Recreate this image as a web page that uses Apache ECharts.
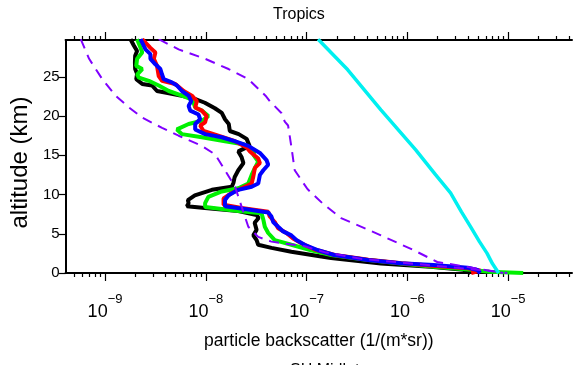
<!DOCTYPE html>
<html>
<head>
<meta charset="utf-8">
<script src="https://cdn.jsdelivr.net/npm/echarts@6/dist/echarts.min.js"></script>
<style>
  html, body { margin: 0; padding: 0; background: #fff; }
  #chart { width: 573px; height: 365px; }
</style>
</head>
<body>
<div id="chart"></div>
<script>
// altitude (km) and particle backscatter (1/(m*sr))
const altBlack = [29.8, 29.0, 28.3, 27.7, 26.8, 26.0, 25.4, 24.7, 24.1, 23.9, 23.2, 23.0, 22.6, 22.2, 21.7, 21.0, 20.4, 19.6, 19.0, 18.1, 17.7, 17.1, 16.2, 15.5, 14.8, 14.0, 13.1, 12.2, 11.5, 11.0, 10.6, 9.9, 9.3, 8.9, 8.5, 8.3, 7.9, 7.4, 7.0, 6.4, 5.5, 4.8, 4.2, 3.6, 3.2, 2.7, 2.1, 1.9, 1.2, 0.8, 0.4, 0];
const black = [1.79e-9, 1.93e-9, 2.08e-9, 1.99e-9, 1.98e-9, 1.99e-9, 2.08e-9, 2.04e-9, 2.34e-9, 2.93e-9, 3.28e-9, 3.94e-9, 5.79e-9, 7.78e-9, 9.78e-9, 1.23e-8, 1.44e-8, 1.55e-8, 1.69e-8, 1.73e-8, 2.12e-8, 2.54e-8, 2.72e-8, 2.10e-8, 2.26e-8, 2.36e-8, 2.10e-8, 1.93e-8, 1.88e-8, 1.81e-8, 1.15e-8, 7.78e-9, 6.64e-9, 6.75e-9, 6.49e-9, 9.78e-9, 2.10e-8, 3.19e-8, 3.34e-8, 3.05e-8, 3.19e-8, 2.96e-8, 3.19e-8, 3.31e-8, 4.48e-8, 7.06e-8, 1.40e-7, 1.75e-7, 5.46e-7, 1.70e-6, 3.60e-6, 4.23e-6];

const altGreen = [29.8, 28.7, 28.1, 27.3, 26.4, 26.0, 25.3, 24.9, 24.5, 23.9, 23.2, 22.6, 22.2, 21.7, 21.1, 20.7, 20.0, 19.4, 19.0, 18.3, 17.7, 17.3, 16.8, 16.4, 15.6, 15.1, 14.2, 13.4, 12.5, 11.4, 10.8, 10.4, 9.7, 8.9, 8.4, 7.9, 7.6, 6.8, 5.9, 5.1, 4.2, 3.6, 2.9, 2.3, 1.7, 1.2, 0.8, 0.4, 0.15, 0];
const green = [2.08e-9, 2.25e-9, 2.34e-9, 2.08e-9, 2.04e-9, 2.34e-9, 2.08e-9, 2.17e-9, 2.72e-9, 3.41e-9, 4.29e-9, 5.79e-9, 7.0e-9, 7.56e-9, 7.84e-9, 9.13e-9, 1.06e-8, 9.13e-9, 6.75e-9, 5.17e-9, 5.79e-9, 9.13e-9, 1.55e-8, 2.36e-8, 3.07e-8, 2.96e-8, 3.31e-8, 3.07e-8, 2.85e-8, 2.64e-8, 2.10e-8, 1.44e-8, 1.06e-8, 9.84e-9, 9.84e-9, 2.10e-8, 3.57e-8, 3.72e-8, 3.85e-8, 4.16e-8, 4.83e-8, 7.06e-8, 1.11e-7, 1.75e-7, 3.9e-7, 8.6e-7, 1.82e-6, 4.23e-6, 6.5e-6, 1.41e-5];

const altRed = [29.8, 28.7, 28.1, 27.3, 26.4, 25.1, 24.5, 24.1, 23.2, 22.6, 21.9, 21.1, 20.7, 20.0, 19.2, 18.8, 18.1, 17.5, 16.8, 16.0, 15.5, 14.6, 14.0, 13.4, 12.3, 11.4, 10.8, 10.2, 9.5, 8.7, 8.3, 7.8, 7.2, 6.5, 5.7, 5.1, 4.4, 3.8, 3.0, 2.3, 1.7, 1.25, 0.9, 0.6, 0.3, 0];
const red = [2.34e-9, 2.82e-9, 3.16e-9, 3.05e-9, 3.28e-9, 3.41e-9, 3.68e-9, 4.98e-9, 6.03e-9, 7.27e-9, 8.15e-9, 7.84e-9, 9.13e-9, 1.02e-8, 9.84e-9, 8.79e-9, 9.49e-9, 1.33e-8, 1.95e-8, 2.54e-8, 2.74e-8, 3.31e-8, 3.44e-8, 3.07e-8, 2.96e-8, 2.85e-8, 2.26e-8, 1.81e-8, 1.50e-8, 1.50e-8, 2.26e-8, 4.16e-8, 4.31e-8, 4.83e-8, 5.22e-8, 6.31e-8, 7.34e-8, 8.87e-8, 1.20e-7, 1.9e-7, 4.1e-7, 8.8e-7, 1.9e-6, 4.0e-6, 5.3e-6, 4.3e-6];

const altBlue = [29.8, 28.5, 27.9, 27.3, 26.6, 26.0, 25.3, 24.7, 24.3, 23.9, 23.2, 22.6, 21.9, 21.3, 20.7, 20.2, 19.6, 19.0, 18.3, 17.7, 17.3, 16.8, 16.2, 15.3, 14.4, 13.8, 13.1, 12.5, 11.4, 11.0, 10.6, 9.9, 9.3, 8.5, 8.1, 7.7, 7.2, 6.5, 5.9, 5.3, 4.8, 4.2, 3.6, 2.9, 2.3, 1.66, 1.24, 1.02, 0.68, 0.38, 0];
const blue = [2.25e-9, 2.52e-9, 2.82e-9, 2.82e-9, 3.16e-9, 3.54e-9, 3.68e-9, 3.82e-9, 4.61e-9, 5.17e-9, 5.79e-9, 6.75e-9, 7.16e-9, 6.75e-9, 7.0e-9, 8.47e-9, 8.79e-9, 7.84e-9, 7.84e-9, 9.84e-9, 1.44e-8, 1.93e-8, 2.64e-8, 3.44e-8, 4.0e-8, 4.16e-8, 3.72e-8, 3.44e-8, 3.31e-8, 2.85e-8, 2.10e-8, 1.68e-8, 1.55e-8, 1.55e-8, 2.64e-8, 4.16e-8, 4.48e-8, 4.66e-8, 5.22e-8, 5.85e-8, 7.06e-8, 7.91e-8, 9.55e-8, 1.30e-7, 1.88e-7, 4.06e-7, 8.6e-7, 1.82e-6, 3.95e-6, 4.95e-6, 5.3e-6];

const altLow = [29.8, 27.3, 24.7, 22.6, 21.1, 19.8, 18.5, 17.5, 16.2, 15.1, 13.1, 11.0, 8.5, 5.9, 4.6, 4.0, 3.4, 2.6, 1.8, 1.1, 0.5, 0.2, 0];
const purpleLow = [5.74e-10, 6.95e-10, 9.4e-10, 1.27e-9, 1.73e-9, 2.34e-9, 3.68e-9, 5.37e-9, 9.13e-9, 1.24e-8, 1.55e-8, 1.95e-8, 2.26e-8, 2.64e-8, 3.31e-8, 4.48e-8, 9.55e-8, 1.56e-7, 3.47e-7, 1.36e-6, 4.23e-6, 7.46e-6, 9.8e-6];

const altHigh = [29.8, 28.5, 27.3, 26.0, 24.7, 22.6, 21.9, 20.4, 19.3, 18.8, 16.1, 13.1, 10.7, 8.8, 7.0, 4.8, 2.9, 1.4, 0.7, 0];
const purpleHigh = [3.41e-9, 5.37e-9, 9.84e-9, 1.68e-8, 2.64e-8, 3.91e-8, 4.31e-8, 5.62e-8, 6.07e-8, 6.55e-8, 7.06e-8, 7.62e-8, 1.02e-7, 1.46e-7, 2.20e-7, 5.46e-7, 1.16e-6, 1.98e-6, 4.23e-6, 8.95e-6];

const altCyan = [29.8, 25.9, 20.8, 15.7, 12.5, 10.2, 7.8, 5.9, 4.0, 2.5, 1.2, 0];
const cyan = [1.30e-7, 2.56e-7, 5.46e-7, 1.21e-6, 1.91e-6, 2.68e-6, 3.44e-6, 4.23e-6, 5.19e-6, 6.18e-6, 6.97e-6, 8.04e-6];

const majorTicks = [1e-9, 1e-8, 1e-7, 1e-6, 1e-5];
const xMin = 4.06e-10, xMax = 4.3e-5;

const minorTicks = [];
for (let e = -10; e <= -5; e++) {
    for (let m = 2; m <= 9; m++) {
        const v = m * Math.pow(10, e);
        if (v > xMin && v < xMax) minorTicks.push(v);
    }
}

const pairs = (xs, alts) => xs.map((v, i) => [v, alts[i]]);

const chart = echarts.init(document.getElementById('chart'));

const font = 'Liberation Sans';

const xBase = (pos, ticks, len, showLine) => ({
    type: 'log',
    position: pos,
    min: xMin,
    max: xMax,
    axisLine: {show: showLine, onZero: false, lineStyle: {color: '#000', width: 2}},
    axisTick: {show: true, length: len, customValues: ticks, lineStyle: {color: '#000', width: 1.2}},
    axisLabel: {show: false},
    splitLine: {show: false},
    minorTick: {show: false},
    minorSplitLine: {show: false}
});

const bottomMajor = xBase('bottom', majorTicks, 8, true);
bottomMajor.axisLabel = {
    show: true,
    customValues: majorTicks,
    margin: 20,
    formatter: (v) => '{b|10}{s|\u2212' + Math.round(-Math.log10(v)) + '}',
    rich: {
        b: {fontFamily: font, fontSize: 18, lineHeight: 28, color: '#000', verticalAlign: 'bottom'},
        s: {fontFamily: font, fontSize: 13, lineHeight: 13, color: '#000', verticalAlign: 'top'}
    }
};
bottomMajor.name = 'particle backscatter (1/(m*sr))';
bottomMajor.nameLocation = 'middle';
bottomMajor.nameGap = 59;
bottomMajor.nameTextStyle = {fontFamily: font, fontSize: 17.5, color: '#000'};

const option = {
    animation: false,
    backgroundColor: '#fff',
    title: [
        {text: 'Tropics', left: 268, top: 2, textStyle: {fontFamily: font, fontSize: 16, fontWeight: 'normal', color: '#000'}},
        {text: 'SH Midlat', left: 285, top: 358, textStyle: {fontFamily: font, fontSize: 16, fontWeight: 'normal', color: '#000'}}
    ],
    grid: {left: 63, right: 1, top: 40, bottom: 92},
    xAxis: [
        bottomMajor,
        xBase('bottom', minorTicks, 4, false),
        xBase('top', majorTicks, 8, true),
        xBase('top', minorTicks, 4, false)
    ],
    yAxis: {
        type: 'value',
        min: 0,
        max: 29.7,
        interval: 5,
        name: 'altitude (km)',
        nameLocation: 'middle',
        nameGap: 30,
        nameTextStyle: {fontFamily: font, fontSize: 24, color: '#000', padding: [0, 12, 0, 0]},
        axisLine: {show: true, onZero: false, lineStyle: {color: '#000', width: 2}},
        axisTick: {show: true, length: 7, lineStyle: {color: '#000', width: 1.2}},
        axisLabel: {fontFamily: font, fontSize: 15, color: '#000', margin: 6, showMaxLabel: false},
        splitLine: {show: false}
    },
    series: [
        {name: 'black', data: pairs(black, altBlack), color: '#000000', lw: 4},
        {name: 'green', data: pairs(green, altGreen), color: '#00f000', lw: 4},
        {name: 'red', data: pairs(red, altRed), color: '#ff0000', lw: 4},
        {name: 'blue', data: pairs(blue, altBlue), color: '#0000ff', lw: 4},
        {name: 'low', data: pairs(purpleLow, altLow), color: '#8000ff', lw: 2, dash: [10, 7]},
        {name: 'high', data: pairs(purpleHigh, altHigh), color: '#8000ff', lw: 2, dash: [10, 7]},
        {name: 'cyan', data: pairs(cyan, altCyan), color: '#00f0f0', lw: 3.5}
    ].map(s => ({
        type: 'line',
        name: s.name,
        data: s.data,
        xAxisIndex: 0,
        showSymbol: false,
        silent: true,
        lineStyle: {color: s.color, width: s.lw, type: s.dash || 'solid'}
    }))
};

chart.setOption(option);
</script>
</body>
</html>
